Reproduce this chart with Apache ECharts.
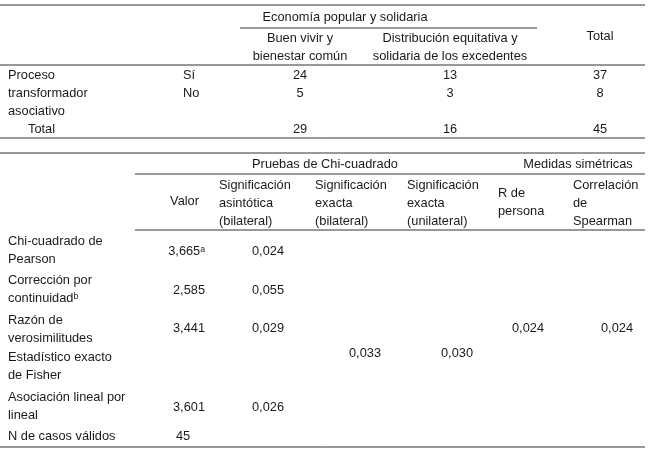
<!DOCTYPE html>
<html><head><meta charset="utf-8">
<script src="https://cdn.jsdelivr.net/npm/echarts@6/dist/echarts.min.js"></script>
<style>html,body{margin:0;padding:0;background:#fff}#c{width:649px;height:451px}</style>
</head><body><div id="c"></div>
<script>
// Table 1 data
const groupTitle = "Economía popular y solidaria";
const colHeaders1 = [["Buen vivir y","bienestar común"],["Distribución equitativa y","solidaria de los excedentes"],["Total"]];
const rowLabel1 = ["Proceso","transformador","asociativo"];
const rowCats1 = ["Sí","No","Total"];
const buenVivir = [24, 5, 29];
const distribucion = [13, 3, 16];
const totals = [37, 8, 45];
// Table 2 data
const colHeaders2 = [["Valor"],["Significación","asintótica","(bilateral)"],["Significación","exacta","(bilateral)"],["Significación","exacta","(unilateral)"],["R de","persona"],["Correlación","de","Spearman"]];
const rowLabels2 = [["Chi-cuadrado de","Pearson"],["Corrección por","continuidadᵇ"],["Razón de","verosimilitudes"],["Estadístico exacto","de Fisher"],["Asociación lineal por","lineal"],["N de casos válidos"]];
const valor = ["3,665ᵃ","2,585","3,441","","3,601","45"];
const sigAsint = ["0,024","0,055","0,029","","0,026",""];
const sigExBil = ["","","","0,033","",""];
const sigExUni = ["","","","0,030","",""];
const rPersona = ["","","0,024","","",""];
const spearman = ["","","0,024","","",""];

const F = '12.8px "Liberation Sans", Arial, sans-serif';
const C = '#1a1a1a';
const els = [];
function t(x,y,s,align){els.push({type:'text',x,y,style:{text:s,font:F,fill:C,align:align||'left',verticalAlign:'middle'}});}
function ln(x1,y1,x2,y2,w){els.push({type:'line',shape:{x1,y1,x2,y2},style:{stroke:'#333',lineWidth:w||1}});}

// Table 1
ln(0,5,645,5);
t(345,17,groupTitle,'center');
ln(240,28,537,28);
t(600,36,colHeaders1[2][0],'center');
[300,450].forEach((x,i)=>{t(x,38,colHeaders1[i][0],'center');t(x,56,colHeaders1[i][1],'center');});
ln(0,65,645,65);
t(8,75,rowLabel1[0]);t(8,93,rowLabel1[1]);t(8,111,rowLabel1[2]);
const ry=[75,93,129];
rowCats1.forEach((c,i)=>{
  if(i<2) t(183,ry[i],c); else t(28,ry[i],c);
  t(300,ry[i],String(buenVivir[i]),'center');
  t(450,ry[i],String(distribucion[i]),'center');
  t(600,ry[i],String(totals[i]),'center');
});
ln(0,138,645,138);

// Table 2
ln(0,153,645,153);
t(325,164,"Pruebas de Chi-cuadrado",'center');
t(578,164,"Medidas simétricas",'center');
ln(135,174,645,174);
t(199,201,colHeaders2[0][0],'right');
const hx=[219,315,407];
hx.forEach((x,i)=>colHeaders2[i+1].forEach((s,j)=>t(x,185+j*18,s)));
colHeaders2[4].forEach((s,j)=>t(498,193+j*18,s));
colHeaders2[5].forEach((s,j)=>t(573,185+j*18,s));
ln(135,230,645,230);
const ly=[[241,259],[280,298],[320,338],[357,375],[397,415],[436]];
const vy=[251,290,328,353,407,436];
rowLabels2.forEach((r,i)=>{
  r.forEach((s,j)=>t(8,ly[i][j],s));
  if(valor[i]) t(i===5?176:205,vy[i],valor[i],i===5?'left':'right');
  if(sigAsint[i]) t(268,vy[i],sigAsint[i],'center');
  if(sigExBil[i]) t(365,vy[i],sigExBil[i],'center');
  if(sigExUni[i]) t(457,vy[i],sigExUni[i],'center');
  if(rPersona[i]) t(528,vy[i],rPersona[i],'center');
  if(spearman[i]) t(617,vy[i],spearman[i],'center');
});
ln(0,447,645,447);

const chart = echarts.init(document.getElementById('c'));
chart.setOption({animation:false,graphic:{elements:els}});
</script></body></html>
